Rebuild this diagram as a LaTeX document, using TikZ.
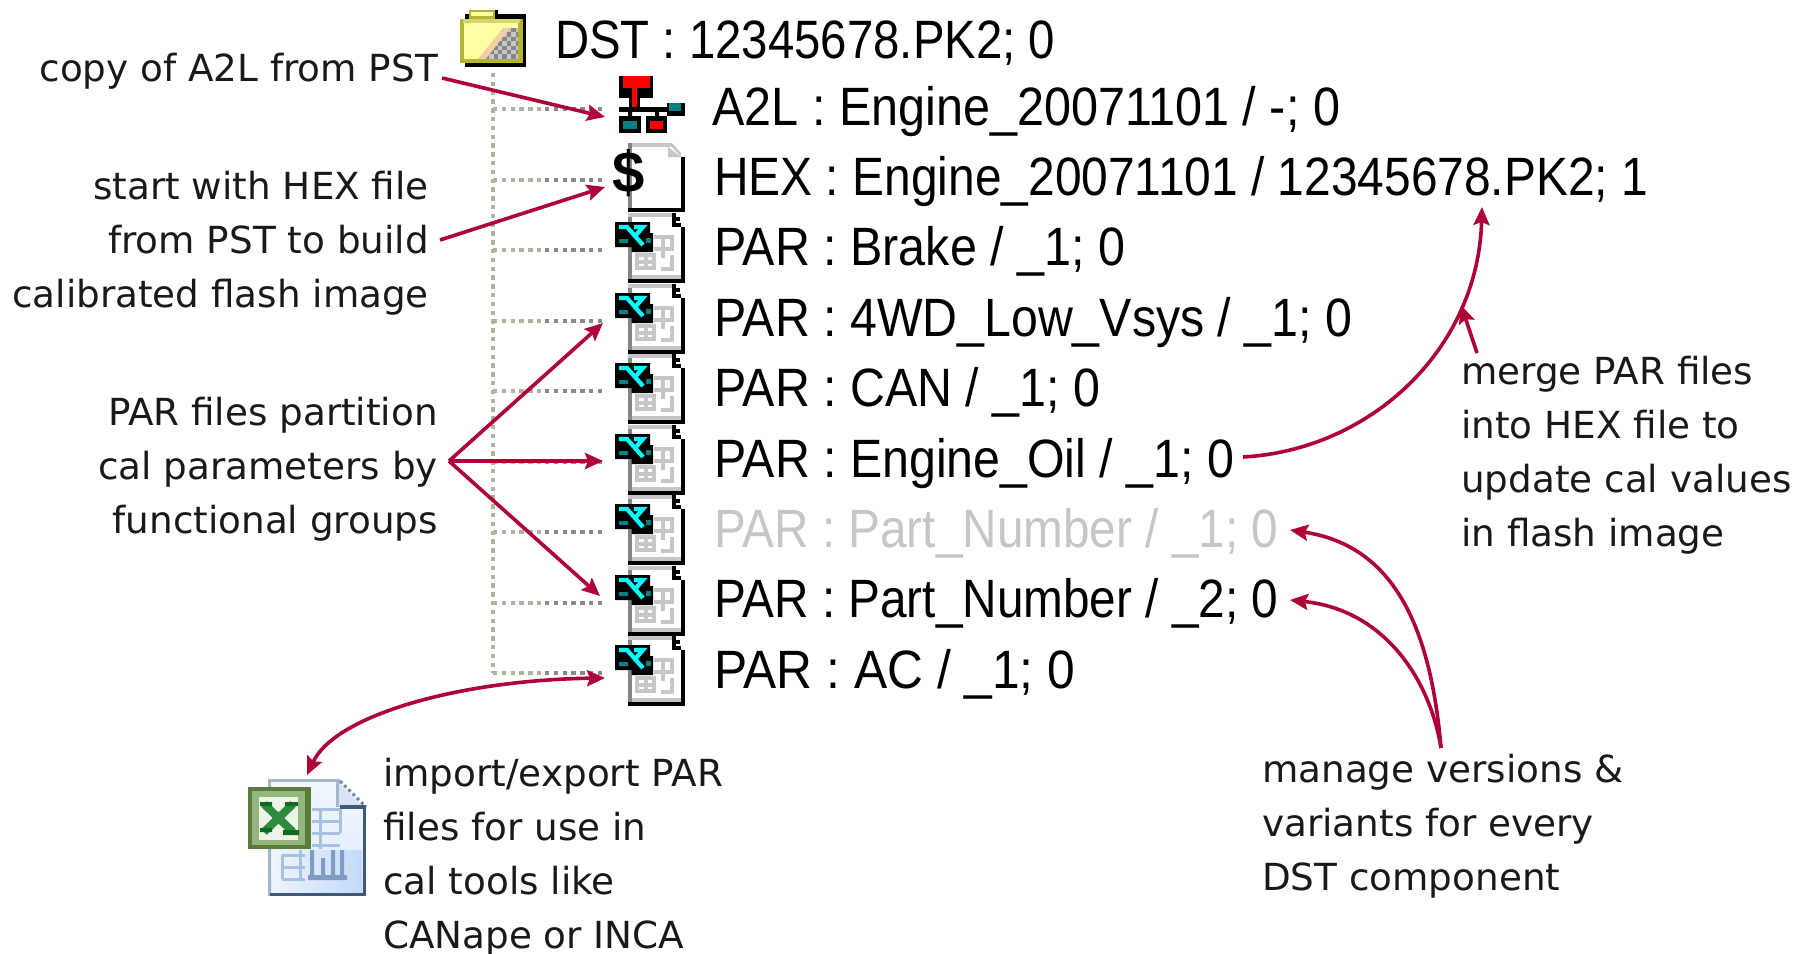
\documentclass[tikz,border=0pt]{standalone}
\usepackage{fontspec}
\usepackage{graphicx}
\setmainfont{DejaVu Sans}
\newfontfamily\treefont{Liberation Sans}
\usetikzlibrary{arrows.meta}
\definecolor{crim}{HTML}{B00038}
\definecolor{dotA}{HTML}{B4B0A2}
\definecolor{dotB}{HTML}{8A8A8A}
\definecolor{teal1}{HTML}{008080}
\definecolor{lg}{HTML}{C6C6C6}
\definecolor{mg}{HTML}{868686}
\definecolor{aqua}{HTML}{00FFFF}
\definecolor{pure}{HTML}{FF0000}
\definecolor{oliveA}{HTML}{B4B432}
\definecolor{oliveB}{HTML}{D6D66A}
\definecolor{paleY}{HTML}{FFFFA6}
\definecolor{peach}{HTML}{F4CFA0}
\definecolor{xlPage}{HTML}{F2F7FE}
\definecolor{xlPageB}{HTML}{BCD6F8}
\definecolor{xlEdge}{HTML}{A2B6CC}
\definecolor{xlDark}{HTML}{3F5A78}
\definecolor{xlLine}{HTML}{A6C1E2}
\definecolor{xlBar}{HTML}{7F9CC4}
\definecolor{xlFold}{HTML}{D8E4F6}
\definecolor{grA}{HTML}{5A7B3C}
\definecolor{grB}{HTML}{92B67C}
\definecolor{grC}{HTML}{EEF3E8}
\definecolor{grD}{HTML}{2E8B3E}
\definecolor{grE}{HTML}{0F6B1E}
\newcommand{\fitw}[2]{\setbox0=\hbox{\fontsize{54}{54}\treefont #2}\pgfmathsetmacro\fx{#1/\the\wd0}\scalebox{\fx}[1]{\box0}}
\tikzset{
  x=1pt,y=-1pt,
  note/.style={font=\fontsize{37.3}{54}\selectfont,inner sep=0pt,text=black!90},
  rownode/.style={anchor=base west,inner sep=0pt,text=black},
  ghost/.style={anchor=base west,inner sep=0pt,text=lg},
  arrowline/.style={draw=crim,line width=3.6pt,-{Stealth[length=18pt,width=16pt,inset=3pt]}},
  twoway/.style={draw=crim,line width=3.6pt,{Stealth[length=18pt,width=16pt,inset=3pt]}-{Stealth[length=18pt,width=16pt,inset=3pt]}},
  dotsA/.style={draw=dotA,line width=4pt,dash pattern=on 4.4pt off 4.4pt},
  dotsB/.style={draw=dotB,line width=4pt,dash pattern=on 4.4pt off 4.4pt},
  paricon/.pic={
    \fill[white] (0,-37) rectangle (57,33);
    \fill[mg] (0,-37) rectangle (4,33);
    \fill[lg] (0,-37) rectangle (44,-33);
    \fill[black] (0,29) rectangle (57,33);
    \fill[lg] (4,25) rectangle (53,29);
    \fill[black] (53,-23) rectangle (57,33);
    \fill[black] (44,-27) rectangle (53,-23);
    \fill[black] (44,-37) rectangle (48,-33);
    \fill[black] (48,-33) rectangle (52,-29);
    \fill[black] (44,-33) rectangle (48,-23);
    \draw[lg,line width=3.6pt] (26,-13) -- (44,-13) -- (44,-1) -- (26,-1) (35,-13) -- (35,8) (9,5) -- (26,5) -- (26,18) -- (9,18) -- cycle (18,5) -- (18,18) (44,5) -- (44,19) -- (33,19) (9,12) -- (26,12);
    \fill[black] (-13,-28) rectangle (22,-3) (3.7,-17) rectangle (25,2);
    \fill[teal1] (-9,-11) rectangle (0,-7) (18,-12) rectangle (23,-7);
    \draw[aqua,line width=4.3pt] (-9,-23) -- (-1,-23) -- (15,-5);
    \draw[aqua,line width=4.3pt] (6,-23) -- (15,-23) -- (8,-15);
  },
  folderpic/.pic={
    \fill[black] (5,4) rectangle (66,57);
    \fill[black] (33,0) rectangle (38,10);
    \fill[oliveA] (9,0) rectangle (35,9);
    \fill[paleY] (11,2) rectangle (33,6);
    \fill[oliveA] (0,9) rectangle (63,53);
    \fill[oliveB] (3,9) rectangle (60,13);
    \fill[paleY] (4,13) rectangle (58,49);
    \begin{scope}
      \clip (18,49) -- (58,49) -- (58,18) -- (43,18) -- cycle;
      \fill[peach] (16,49) rectangle (58,18);
      \clip (26,49) -- (58,49) -- (58,18) -- (50,18) -- cycle;
      \fill[lg] (16,49) rectangle (58,18);
      \foreach \i in {0,...,10} \foreach \j in {0,...,8}{
        \pgfmathparse{int(mod(\i+\j,2))}
        \ifnum\pgfmathresult=0 \fill[mg] (16+\i*4.4,18+\j*4.4) rectangle +(4.4,4.4); \fi}
    \end{scope}
  },
  excelpic/.pic={
    \shade[top color=xlPage,bottom color=xlPage!60!xlPageB] (268,779) -- (338,779) -- (366,807) -- (366,896) -- (268,896) -- cycle;
    \shade[left color=xlPage,right color=xlPageB,opacity=.8] (272,850) rectangle (362,892);
    \draw[xlEdge,line width=3.5pt] (269.5,896) -- (269.5,780.5) -- (338,780.5) -- (338,807);
    \fill[xlFold] (339,783) -- (362,806) -- (339,806) -- cycle;
    \draw[xlDark!70,line width=3pt,dash pattern=on 3pt off 3pt] (340,781) -- (366,807);
    \draw[xlDark,line width=3.5pt] (340,807) -- (364.5,807) -- (364.5,894.5) -- (270,894.5);
    \draw[xlLine,line width=3pt] (312,809) -- (340,809) (312,821) -- (340,821) (312,833) -- (340,833) (312,845) -- (340,845) (320,809) -- (320,849) (340,809) -- (340,833);
    \draw[xlLine,line width=3pt] (282,855) -- (305,855) (282,867) -- (305,867) (282,879) -- (305,879) (282,855) -- (282,879) (300,850) -- (300,879);
    \fill[xlBar] (308,875) rectangle (347,880) (310,850) rectangle (314,876) (321,858) rectangle (325,876) (331,850) rectangle (335,876) (340,850) rectangle (344,876);
    \fill[grA] (248,787) rectangle (311,849);
    \fill[grB] (252,791) rectangle (305,845);
    \fill[grC] (259,797) rectangle (298,840);
    \draw[grD,line width=8pt] (264,804) -- (293,832);
    \draw[grD,line width=8pt] (293,804) -- (264,832);
    \fill[grE] (260,802) rectangle (272,806) (285,802) rectangle (298,806) (260,828) rectangle (272,832) (283,830) rectangle (299,835);
  }
}
\begin{document}
\begin{tikzpicture}
\useasboundingbox (0,0) rectangle (1803,953);
\fill[white] (0,0) rectangle (1803,953);

\coordinate (trunktop) at (493,73);
\coordinate (trunkbot) at (493,673);
\foreach \nm/\yy in {a/109,h/180,b/250,w/321,c/391,o/462,p/532,q/603,r/673}{
  \coordinate (t\nm) at (493,\yy);
  \coordinate (m\nm) at (545,\yy);
  \coordinate (e\nm) at (602,\yy);
  \draw[dotsA] (t\nm) -- (m\nm);
  \draw[dotsB] (m\nm) -- (e\nm);
}
\draw[dotsA] (trunktop) -- (trunkbot);

\pic at (460,10) {folderpic};

% A2L icon
\fill[black] (619,76) rectangle (653,98);
\fill[pure] (623,76) rectangle (650,88);
\fill[black] (629,98) rectangle (640,107);
\fill[pure] (632,88) rectangle (637,107);
\fill[black] (619,107) rectangle (685,112);
\fill[black] (667,103) rectangle (685,116);
\fill[teal1] (669,103) rectangle (681,111);
\fill[black] (628,112) rectangle (632,116) (655,112) rectangle (659,116);
\fill[black] (619,116) rectangle (641,133);
\fill[teal1] (623,121) rectangle (637,129);
\fill[black] (646,116) rectangle (667,133);
\fill[pure] (650,121) rectangle (663,129);

% HEX icon
\fill[white] (628,143) rectangle (685,212);
\fill[lg] (628,143) rectangle (672,147);
\fill[mg] (628,143) rectangle (632,212);
\fill[lg] (668,147) -- (681,157) -- (668,157) -- cycle;
\fill[lg] (668,143) -- (672,143) -- (681,153) -- (681,157) -- cycle;
\fill[black] (681,157) rectangle (685,212);
\fill[black] (628,208) rectangle (685,212);
\node[inner sep=0pt,anchor=base] (dollar) at (628.5,192) {\fontsize{58}{58}\treefont\bfseries\$};

\foreach \yy in {250,321,391,462,532,603,673}{
  \pic at (628,\yy) {paricon};
}

\pic at (0,0) {excelpic};

\node[rownode] (dst) at (555,58) {\fitw{500}{DST : 12345678.PK2; 0}};
\node[rownode] (a2l) at (712,125) {\fitw{628}{A2L : Engine\_20071101 / -; 0}};
\node[rownode] (hex) at (714,195) {\fitw{934}{HEX : Engine\_20071101 / 12345678.PK2; 1}};
\node[rownode] (brake) at (714,265) {\fitw{411}{PAR : Brake / \_1; 0}};
\node[rownode] (wd) at (714,336) {\fitw{638}{PAR : 4WD\_Low\_Vsys / \_1; 0}};
\node[rownode] (can) at (714,406) {\fitw{386}{PAR : CAN / \_1; 0}};
\node[rownode] (oil) at (714,477) {\fitw{520}{PAR : Engine\_Oil / \_1; 0}};
\node[ghost] (pn1) at (714,547) {\fitw{564}{PAR : Part\_Number / \_1; 0}};
\node[rownode] (pn2) at (714,617.5) {\fitw{564}{PAR : Part\_Number / \_2; 0}};
\node[rownode] (ac) at (714,688) {\fitw{361}{PAR : AC / \_1; 0}};

% notes: the base anchor of a multi-line node is its last line
\node[note,anchor=base east] (n1) at (438,81) {copy of A2L from PST};
\node[note,anchor=base east,align=right] (n2) at (429,307) {start with HEX file\\from PST to build\\calibrated flash image};
\node[note,anchor=base east,align=right] (n3) at (438,533) {PAR files partition\\cal parameters by\\functional groups};
\node[note,anchor=base west,align=left] (n4) at (1461,546.5) {merge PAR files\\into HEX file to\\update cal values\\in flash image};
\node[note,anchor=base west,align=left] (n5) at (1262,890) {manage versions \&\\variants for every\\DST component};
\node[note,anchor=base west,align=left] (n6) at (383,948) {import/export PAR\\files for use in\\cal tools like\\CANape or INCA};

\coordinate (s1) at (442,78);  \coordinate (e1) at (605,117);
\coordinate (s2) at (440,240); \coordinate (e2) at (605,187);
\coordinate (fan) at (449,461);
\coordinate (f1) at (603,323); \coordinate (f2) at (603,461); \coordinate (f3) at (600,596);
\coordinate (o1) at (1243,457); \coordinate (o2) at (1482,207);
\coordinate (m1) at (1477,353); \coordinate (m2) at (1461,305);
\coordinate (v0) at (1441,748); \coordinate (v1) at (1290,530); \coordinate (v2) at (1290,600);
\coordinate (x1) at (605,678); \coordinate (x2) at (307,775);
\draw[arrowline] (s1) -- (e1);
\draw[arrowline] (s2) -- (e2);
\draw[arrowline] (fan) -- (f1);
\draw[arrowline] (fan) -- (f2);
\draw[arrowline] (fan) -- (f3);
\draw[arrowline] (o1) .. controls (1370,450) and (1478,350) .. (o2);
\draw[arrowline] (m1) -- (m2);
\draw[arrowline] (v0) .. controls (1430,620) and (1390,545) .. (v1);
\draw[arrowline] (v0) .. controls (1430,680) and (1385,610) .. (v2);
\draw[twoway] (x1) .. controls (460,680) and (335,715) .. (x2);
\end{tikzpicture}
\end{document}
